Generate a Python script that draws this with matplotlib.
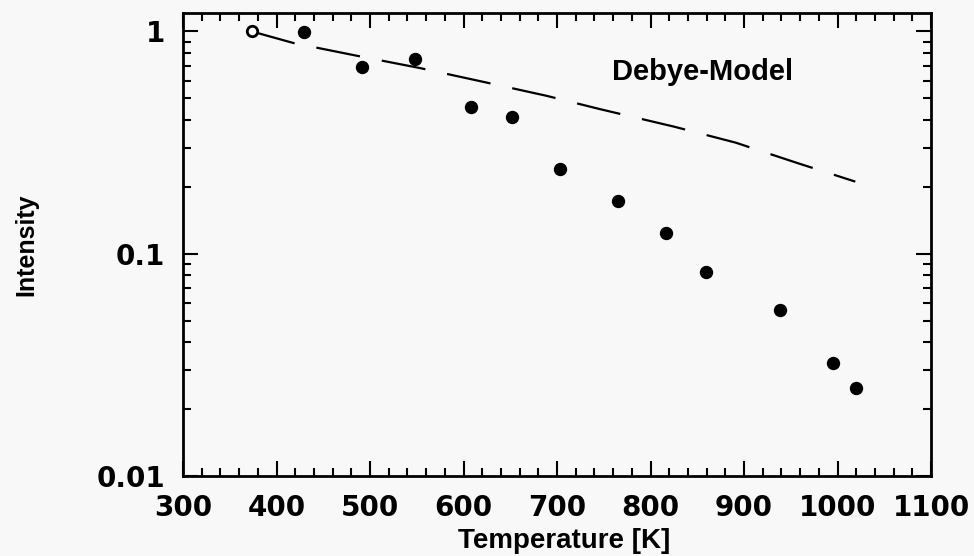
import matplotlib.pyplot as plt
from matplotlib.ticker import AutoMinorLocator, LogLocator, NullFormatter

# Measured intensities (first point is the reference, drawn open)
temp = [373.5, 429.7, 491.4, 548, 607.7, 652, 702.9, 764.9, 816.3, 859.4, 938.8, 995.5, 1019.5]
intensity = [1.0, 0.99, 0.695, 0.751, 0.456, 0.411, 0.241, 0.173, 0.124, 0.0827, 0.0557, 0.0323, 0.0248]

# Debye model curve
model_temp = [373.5, 418, 486, 553.5, 622, 689, 746, 825, 891, 958, 1019]
model_int = [1.0, 0.887, 0.777, 0.684, 0.592, 0.513, 0.447, 0.373, 0.316, 0.255, 0.211]

x_ticks = [300, 400, 500, 600, 700, 800, 900, 1000, 1100]
y_ticks = [0.01, 0.1, 1]
y_labels = ['0.01', '0.1', '1']

bg = '#f8f8f8'
fig = plt.figure(figsize=(9.74, 5.56), dpi=100, facecolor=bg)
ax = fig.add_axes([0.1879, 0.1439, 0.7680, 0.8327], facecolor=bg)

ax.plot(model_temp, model_int, color='black', lw=1.6, dashes=(20, 10))
ax.plot(temp[1:], intensity[1:], 'o', color='black', ms=8.6, zorder=3)
ax.plot(temp[:1], intensity[:1], 'o', mfc='white', mec='black', mew=2, ms=7.5, zorder=4)

ax.set_yscale('log')
ax.set_xlim(300, 1100)
ax.set_ylim(0.01, 1.21)

ax.set_xticks(x_ticks)
ax.xaxis.set_minor_locator(AutoMinorLocator(5))
ax.set_yticks(y_ticks, y_labels)
ax.yaxis.set_minor_locator(LogLocator(base=10, subs=range(2, 10)))
ax.yaxis.set_minor_formatter(NullFormatter())

ax.tick_params(which='both', direction='in', top=True, right=True, width=1.5)
ax.tick_params(which='major', length=11, pad=13)
ax.tick_params(which='minor', length=6)
for lab in ax.get_xticklabels() + ax.get_yticklabels():
    lab.set_fontfamily('DejaVu Sans')
    lab.set_fontweight('bold')
    lab.set_fontsize(20)
for sp in ax.spines.values():
    sp.set_linewidth(2)

ax.set_xlabel('Temperature [K]', fontsize=20, fontweight='bold', family='Liberation Sans')
ax.xaxis.set_label_coords(0.51, -0.112)
ax.set_ylabel('Intensity', fontsize=18, fontweight='bold', family='Liberation Sans')
ax.yaxis.set_label_coords(-0.193, 0.5)

ax.text(759, 0.658, 'Debye-Model', fontsize=21, fontweight='bold', family='Liberation Sans',
        va='center', ha='left')

fig.savefig('out.png', dpi=100, facecolor=bg)
